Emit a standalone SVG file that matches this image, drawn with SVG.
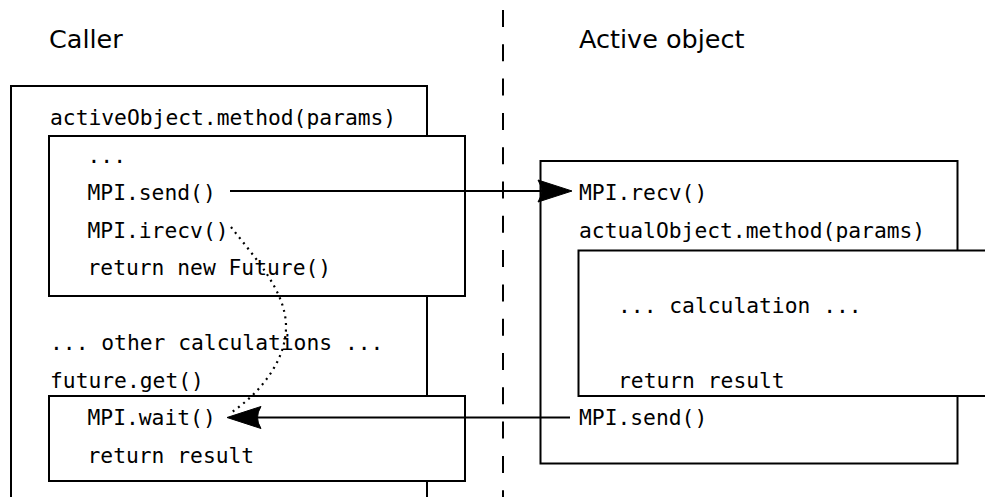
<svg xmlns="http://www.w3.org/2000/svg" width="985" height="497" viewBox="0 0 985 497">
<style>
.box{fill:#fff;stroke:#000;stroke-width:2}
.code{font-family:"DejaVu Sans Mono","Liberation Mono",monospace;font-size:21.3px;fill:#000}
.title{font-family:"DejaVu Sans","Liberation Sans",sans-serif;font-size:25.5px;fill:#000}
.line{fill:none;stroke:#000;stroke-width:2}
</style>
<rect width="985" height="497" fill="#fff"/>
<text class="title" x="49" y="47.5">Caller</text>
<text class="title" x="579" y="47.5">Active object</text>
<g id="caller">
<rect class="box" x="11" y="86" width="416" height="430"/>
<text class="code" x="50" y="125">activeObject.method(params)</text>
<text class="code" x="50" y="350">... other calculations ...</text>
<text class="code" x="50" y="387.5">future.get()</text>
</g>
<g id="call-block">
<rect class="box" x="49" y="136" width="416" height="160"/>
<text class="code" x="87.5" y="162.5">...</text>
<text class="code" x="87.5" y="200">MPI.send()</text>
<text class="code" x="87.5" y="237.5">MPI.irecv()</text>
<text class="code" x="87.5" y="275">return new Future()</text>
</g>
<g id="get-block">
<rect class="box" x="49" y="396" width="416" height="85"/>
<text class="code" x="87.5" y="425">MPI.wait()</text>
<text class="code" x="87.5" y="462.5">return result</text>
</g>
<g id="active">
<rect class="box" x="540.5" y="161" width="417" height="302.5"/>
<text class="code" x="579" y="200">MPI.recv()</text>
<text class="code" x="579" y="237.5">actualObject.method(params)</text>
<text class="code" x="579" y="425">MPI.send()</text>
</g>
<g id="calc-block">
<rect class="box" x="578.5" y="250.5" width="420" height="145.5"/>
<text class="code" x="618" y="312.5">... calculation ...</text>
<text class="code" x="618" y="387.5">return result</text>
</g>
<g id="connectors">
<line class="line" x1="503" y1="10" x2="503" y2="497" stroke-dasharray="17 17.3"/>
<line class="line" x1="230" y1="191" x2="545" y2="191"/>
<path d="M572,191 L538,180 Q545,191 538,202 Z" fill="#000" stroke="#000" stroke-width="1" stroke-linejoin="miter"/>
<line class="line" x1="570" y1="417.5" x2="255" y2="417.5"/>
<path d="M227,417.5 L261,406.5 Q254,417.5 261,428.5 Z" fill="#000" stroke="#000" stroke-width="1" stroke-linejoin="miter"/>
<path d="M231,227 C255,258 285,290 286,325 C287,360 260,393 232,412" fill="none" stroke="#000" stroke-width="2.2" stroke-dasharray="2 4.6"/>
</g>
</svg>
